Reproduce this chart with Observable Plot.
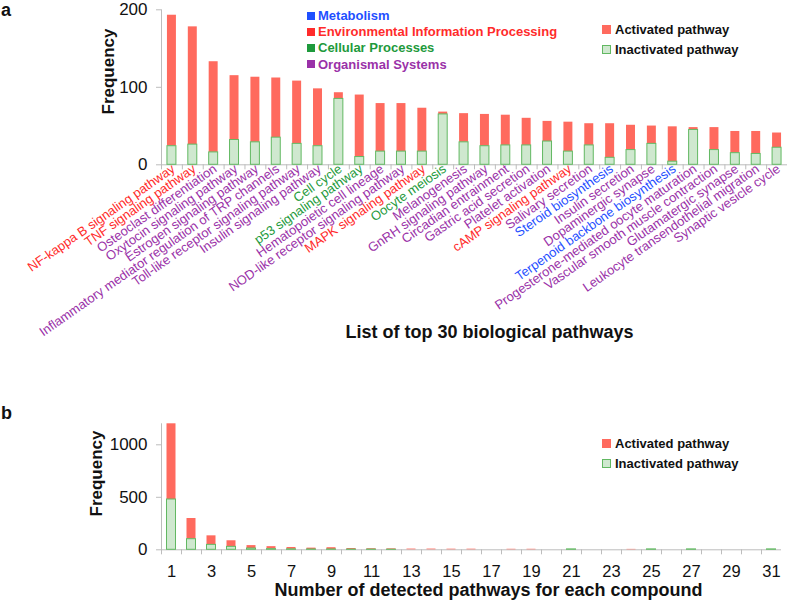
<!DOCTYPE html>
<html>
<head>
<meta charset="utf-8">
<script src="https://cdn.jsdelivr.net/npm/d3@7"></script>
<script src="https://cdn.jsdelivr.net/npm/@observablehq/plot@0.6"></script>
<style>
  html, body { margin: 0; padding: 0; background: #fff; }
  #wrap { position: relative; width: 787px; height: 606px; font-family: 'Liberation Sans', Arial, Helvetica, sans-serif; }
  .abs { position: absolute; }
  .row { position: absolute; display: flex; align-items: center; height: 16px; font-weight: bold; white-space: nowrap; }
</style>
</head>
<body>
<div id="wrap"></div>
<script>
// ---------- data ----------
const pathways = [
  "NF-kappa B signaling pathway", "TNF signaling pathway", "Osteoclast differentiation",
  "Oxytocin signaling pathway", "Estrogen signaling pathway",
  "Inflammatory mediator regulation of TRP channels", "Toll-like receptor signaling pathway",
  "Insulin signaling pathway", "Cell cycle", "p53 signaling pathway",
  "Hematopoietic cell lineage", "NOD-like receptor signaling pathway", "MAPK signaling pathway",
  "Oocyte meiosis", "Melanogenesis", "GnRH signaling pathway", "Circadian entrainment",
  "Gastric acid secretion", "Platelet activation", "cAMP signaling pathway",
  "Salivary secretion", "Steroid biosynthesis", "Insulin secretion", "Dopaminergic synapse",
  "Terpenoid backbone biosynthesis", "Progesterone-mediated oocyte maturation",
  "Vascular smooth muscle contraction", "Glutamatergic synapse",
  "Leukocyte transendothelial migration", "Synaptic vesicle cycle"
];
const pathwayCategory = [
  "Env", "Env", "Org", "Org", "Org", "Org", "Org", "Org", "Cel", "Cel",
  "Org", "Org", "Env", "Cel", "Org", "Org", "Org", "Org", "Org", "Env",
  "Org", "Met", "Org", "Org", "Met", "Org", "Org", "Org", "Org", "Org"
];
const pathwayTotal = [193, 178, 133, 115, 113, 112, 108, 98, 93, 90, 79, 79, 73, 68, 66, 65, 64, 60, 56, 55, 53, 53, 51, 50, 49, 48, 48, 43, 43, 41];
const pathwayInactivated = [24, 26, 16, 32, 29, 35, 27, 24, 85, 10, 17, 17, 17, 65, 29, 24, 25, 25, 30, 17, 25, 9, 19, 27, 4, 45, 19, 15, 14, 22];

const categoryCodes = ["Met", "Env", "Cel", "Org"];
const categoryNames = ["Metabolism", "Environmental Information Processing", "Cellular Processes", "Organismal Systems"];
const categoryColors = ["#1f4fff", "#ff2b2b", "#1e9a3c", "#9a31a8"];

const seriesNames = ["Activated pathway", "Inactivated pathway"];

const compoundPathwayCount = [1,2,3,4,5,6,7,8,9,10,11,12,13,14,15,16,17,18,19,20,21,22,23,24,25,26,27,28,29,30,31];
const compoundTotal = [1200, 298, 133, 86, 40, 30, 22, 16, 20, 12, 10, 9, 7, 7, 6, 6, 0, 5, 5, 0, 4, 0, 0, 4, 4, 0, 4, 0, 0, 0, 4];
const compoundInactivated = [479, 101, 47, 28, 12, 6, 4, 3, 3, 2, 2, 1, 0, 0, 0, 0, 0, 0, 0, 0, 4, 0, 0, 0, 4, 0, 4, 0, 0, 0, 4];
const bottomTickLabels = [1,3,5,7,9,11,13,15,17,19,21,23,25,27,29,31];

const topYTicks = [0, 100, 200];
const bottomYTicks = [0, 500, 1000];

// ---------- styles ----------
const font = "'Liberation Sans', Arial, Helvetica, sans-serif";
const actColor = "#ff6a5e";
const inactFill = "#cfe8cf";
const inactStroke = "#62b862";
const axisGray = "#bdbdbd";
const catColor = Object.fromEntries(categoryCodes.map((c, i) => [c, categoryColors[i]]));

const topData = pathways.map((name, i) => ({name, cat: pathwayCategory[i], total: pathwayTotal[i], inact: pathwayInactivated[i]}));
const botData = compoundPathwayCount.map((n, i) => ({n, total: compoundTotal[i], inact: compoundInactivated[i]}));

const wrap = document.getElementById("wrap");

// ---------- top chart ----------
const topW = 787, topMarginL = 161, topMarginR = 0;
const topStep = (topW - topMarginL - topMarginR) / pathways.length;
const topPlot = Plot.plot({
  width: topW, height: 350,
  marginLeft: topMarginL, marginRight: topMarginR, marginTop: 9.3, marginBottom: 185.7,
  x: {type: "band", domain: pathways, paddingInner: 0.57, paddingOuter: 0.285, round: false, axis: null},
  y: {domain: [0, 200]},
  color: {type: "identity"},
  style: {fontFamily: font, background: "transparent", overflow: "visible", color: "#111"},
  marks: [
    Plot.ruleY([0], {stroke: axisGray}),
    Plot.frame({anchor: "left", stroke: axisGray}),
    Plot.ruleX(pathways, {x: d => d, dx: -topStep / 2, y1: 0, y2: -6.5, stroke: axisGray}),
    Plot.axisY({ticks: topYTicks, tickSize: 5, tickPadding: 9, fontSize: 17, label: null, stroke: axisGray}),
    Plot.barY(topData, {x: "name", y1: "inact", y2: "total", fill: actColor}),
    Plot.barY(topData.filter(d => d.inact > 0), {x: "name", y1: 0, y2: "inact", fill: inactFill, stroke: inactStroke, strokeWidth: 1}),
    Plot.text(topData, {x: "name", text: "name", frameAnchor: "bottom", rotate: -35, textAnchor: "end", fill: d => catColor[d.cat], fontSize: 13, dy: 6, dx: 4}),
    Plot.text(["Frequency"], {text: d => d, frameAnchor: "left", rotate: -90, dx: -53.3, dy: 27.2, fontSize: 17, fontWeight: "bold", fill: "#111"}),
    Plot.text(["List of top 30 biological pathways"], {text: d => d, frameAnchor: "bottom", dx: 15, dy: 172.7, fontSize: 18, fontWeight: "bold", fill: "#111"})
  ]
});
const topBox = document.createElement("div");
topBox.className = "abs"; topBox.style.left = "0px"; topBox.style.top = "0px";
topBox.appendChild(topPlot);
wrap.appendChild(topBox);

// ---------- bottom chart ----------
const botW = 787, botMarginL = 161, botMarginR = 6;
const botStep = (botW - botMarginL - botMarginR) / compoundPathwayCount.length;
const botPlot = Plot.plot({
  width: botW, height: 206,
  marginLeft: botMarginL, marginRight: botMarginR, marginTop: 23.3, marginBottom: 56.7,
  x: {type: "band", domain: compoundPathwayCount, paddingInner: 0.55, paddingOuter: 0.275, round: false},
  y: {domain: [0, 1200]},
  style: {fontFamily: font, background: "transparent", overflow: "visible", color: "#111"},
  marks: [
    Plot.ruleY([0], {stroke: axisGray}),
    Plot.frame({anchor: "left", stroke: axisGray}),
    Plot.ruleX(compoundPathwayCount, {x: d => d, dx: -botStep / 2, y1: 0, y2: -48, stroke: axisGray}),
    Plot.axisY({ticks: bottomYTicks, tickFormat: d3.format("d"), tickSize: 5, tickPadding: 9, fontSize: 17, label: null, stroke: axisGray}),
    Plot.axisX({ticks: bottomTickLabels, tickSize: 0, tickPadding: 15, fontSize: 16.5, label: null}),
    Plot.barY(botData.filter(d => d.total > d.inact), {x: "n", y1: "inact", y2: "total", fill: actColor}),
    Plot.barY(botData.filter(d => d.inact > 0), {x: "n", y1: 0, y2: "inact", fill: inactFill, stroke: inactStroke, strokeWidth: 1}),
    Plot.text(["Frequency"], {text: d => d, frameAnchor: "left", rotate: -90, dx: -65, dy: 29.7, fontSize: 17, fontWeight: "bold", fill: "#111"}),
    Plot.text(["Number of detected pathways for each compound"], {text: d => d, frameAnchor: "bottom", dx: 17, dy: 45.7, fontSize: 18, fontWeight: "bold", fill: "#111"})
  ]
});
const botBox = document.createElement("div");
botBox.className = "abs"; botBox.style.left = "0px"; botBox.style.top = "400px";
botBox.appendChild(botPlot);
wrap.appendChild(botBox);

// ---------- overlays: panel letters and legends ----------
function addText(txt, left, top, size, weight) {
  const d = document.createElement("div");
  d.className = "abs";
  d.textContent = txt;
  Object.assign(d.style, {left: left + "px", top: top + "px", fontSize: size + "px", fontWeight: weight, lineHeight: (size + 2) + "px", color: "#111"});
  wrap.appendChild(d);
}
addText("a", 1, 0, 18, "bold");
addText("b", 1, 403, 18, "bold");

function addRow(left, cy, swatch, label, color, size, gap) {
  const r = document.createElement("div");
  r.className = "row";
  Object.assign(r.style, {left: left + "px", top: (cy - 8) + "px", fontSize: size + "px", color, gap: gap + "px"});
  const s = document.createElement("span");
  Object.assign(s.style, swatch, {display: "inline-block", boxSizing: "border-box"});
  const t = document.createElement("span");
  t.textContent = label;
  r.appendChild(s); r.appendChild(t);
  wrap.appendChild(r);
}
categoryNames.forEach((name, i) => {
  addRow(307, 15.7 + i * 16.1, {width: "8px", height: "8px", background: categoryColors[i]}, name, categoryColors[i], 13, 3);
});
function seriesLegend(cy0) {
  addRow(602, cy0, {width: "9px", height: "9px", background: actColor}, seriesNames[0], "#111", 13, 4);
  addRow(602, cy0 + 20, {width: "9px", height: "9px", background: inactFill, border: "1px solid " + inactStroke}, seriesNames[1], "#111", 13, 4);
}
seriesLegend(29.3);
seriesLegend(443);
</script>
</body>
</html>
